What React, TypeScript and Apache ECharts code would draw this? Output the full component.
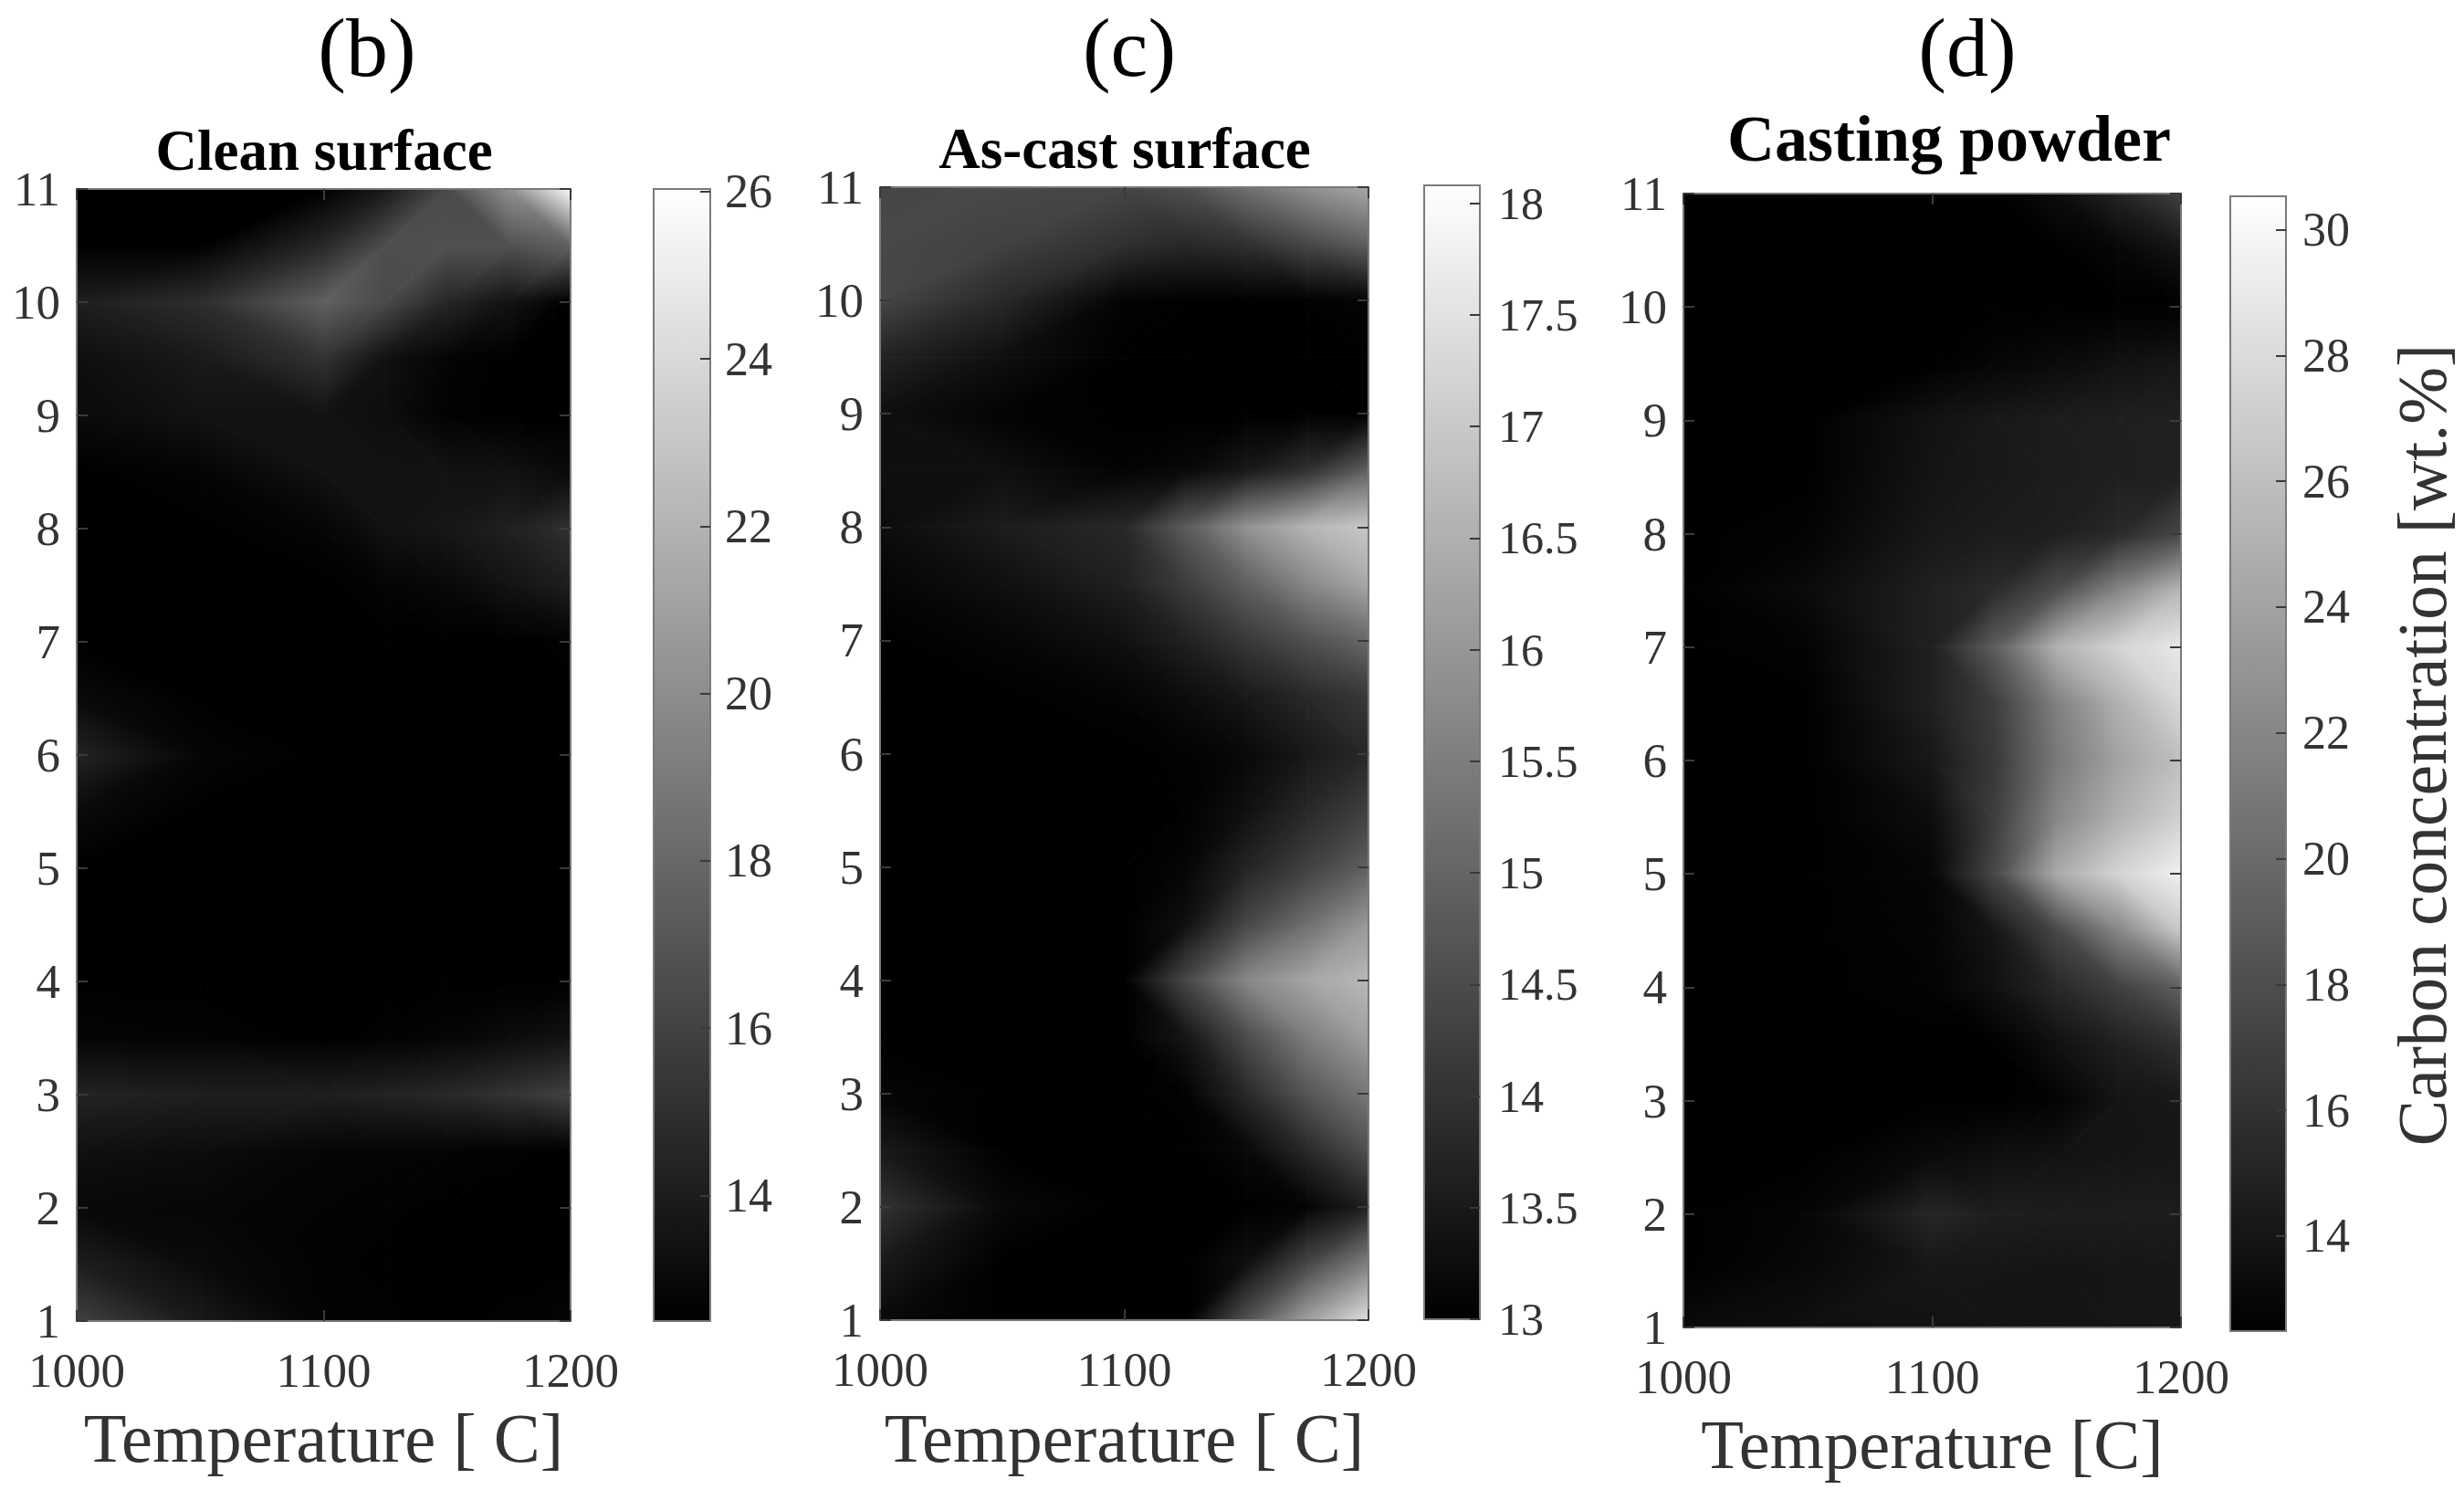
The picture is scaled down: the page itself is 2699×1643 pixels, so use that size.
import React, { useEffect, useRef } from "react";
import * as echarts from "echarts";

const temperatures = [1000, 1050, 1100, 1125, 1150, 1175, 1200];
const heights = [11, 10.5, 10, 9.5, 9, 8.5, 8, 7.5, 7, 6.5, 6, 5.5, 5, 4.5, 4, 3.5, 3, 2.5, 2, 1.5, 1];

const cleanSurface = [
  [12.5, 12.5, 12.5, 13.8, 16.4, 20.1, 25.77],
  [12.5, 12.5, 14.62, 16.6, 16.74, 16.74, 17.6],
  [14.09, 14.9, 17.6, 16.4, 14.5, 13.5, 12.5],
  [13.24, 13.83, 15.15, 13.4, 12.7, 12.5, 12.5],
  [13.03, 13.46, 13.46, 13.2, 12.6, 12.5, 12.5],
  [12.5, 12.71, 13.46, 13.46, 13.46, 13.4, 13.03],
  [12.5, 12.5, 12.77, 13.4, 13.7, 14.2, 15.04],
  [12.5, 12.5, 12.5, 12.7, 12.92, 13.5, 14.09],
  [12.5, 12.5, 12.5, 12.5, 12.5, 12.5, 12.6],
  [13.03, 12.5, 12.5, 12.5, 12.5, 12.5, 12.5],
  [14.36, 12.77, 12.5, 12.5, 12.5, 12.5, 12.5],
  [13.03, 12.5, 12.5, 12.5, 12.5, 12.5, 12.5],
  [12.5, 12.5, 12.5, 12.5, 12.5, 12.5, 12.5],
  [12.5, 12.5, 12.5, 12.5, 12.5, 12.5, 12.5],
  [12.5, 12.5, 12.5, 12.5, 12.5, 12.5, 12.5],
  [12.77, 12.66, 12.5, 12.6, 12.77, 13.1, 13.46],
  [14.36, 14.09, 14.09, 14.3, 14.62, 15.2, 15.95],
  [13.35, 13.14, 12.77, 12.7, 12.66, 12.6, 12.5],
  [12.92, 12.82, 12.66, 12.6, 12.5, 12.5, 12.5],
  [14.09, 13.03, 12.6, 12.5, 12.5, 12.5, 12.5],
  [15.95, 13.83, 12.66, 12.6, 12.5, 12.6, 12.77],
];

const asCastSurface = [
  [14.39, 14.43, 14.39, 14.59, 15.23, 15.87, 16.35],
  [14.43, 14.29, 13.96, 13.8, 13.96, 14.43, 14.91],
  [14.39, 13.8, 13.06, 13.02, 13, 13.02, 13.1],
  [13.7, 13.3, 13, 13, 13, 13, 13],
  [13.3, 13.06, 13, 13, 13, 13, 13],
  [13.3, 13.3, 13.06, 13.16, 13.48, 13.96, 14.91],
  [13.24, 13.55, 13.8, 14.8, 15.9, 16.6, 16.98],
  [13.1, 13.3, 13.64, 14.2, 14.9, 15.7, 16.35],
  [13, 13.1, 13.32, 13.64, 14.12, 14.59, 15.07],
  [13, 13, 13.08, 13.24, 13.48, 13.8, 14.12],
  [13, 13, 13, 13.04, 13.16, 13.48, 13.8],
  [13, 13, 13, 13.02, 13.32, 13.8, 14.27],
  [13, 13, 13, 13.1, 13.7, 14.27, 14.91],
  [13, 13, 13, 13.3, 14.4, 15.2, 16.03],
  [13, 13, 13, 14.4, 15.7, 16.3, 16.67],
  [13, 13, 13, 13.4, 14.5, 15.5, 16.19],
  [13.1, 13, 13, 13.04, 13.8, 14.7, 15.39],
  [13.5, 13, 13, 13, 13.16, 13.8, 14.59],
  [14, 13.16, 13, 13, 13, 13.08, 13.64],
  [13.5, 13, 13, 13, 13.3, 14.4, 15.55],
  [13.2, 13, 13, 13, 14.6, 16.2, 17.45],
];

const castingPowder = [
  [12.5, 12.5, 12.5, 12.5, 13.35, 15, 17.1],
  [12.5, 12.5, 12.5, 12.5, 12.5, 12.9, 13.91],
  [12.5, 12.5, 12.5, 12.5, 12.5, 12.5, 12.5],
  [12.5, 12.5, 12.5, 12.9, 13.21, 13.7, 14.06],
  [12.5, 12.5, 13.77, 14.2, 14.48, 14.65, 14.76],
  [12.5, 12.5, 13.91, 14.2, 14.48, 14.65, 14.76],
  [12.5, 12.71, 14.19, 14.47, 14.61, 15.46, 17.58],
  [12.5, 13.21, 14.75, 15.5, 18, 22, 25.51],
  [12.5, 12.71, 14.75, 19, 25, 27.5, 28.9],
  [12.5, 12.5, 14.75, 16.8, 21.5, 25, 27.77],
  [12.5, 12.5, 14.19, 16.5, 21, 24, 26.07],
  [12.5, 12.5, 13.4, 16.8, 22, 25, 27.21],
  [12.5, 12.5, 12.9, 17.5, 24.5, 27.5, 29.47],
  [12.5, 12.5, 12.8, 14, 17.5, 22, 26.64],
  [12.5, 12.5, 12.7, 13.62, 15.32, 17.02, 19.28],
  [12.5, 12.5, 12.5, 12.5, 13.62, 14.75, 15.89],
  [12.5, 12.5, 12.5, 12.5, 12.7, 13.9, 14.19],
  [12.5, 12.5, 13.21, 13.6, 13.77, 13.95, 14.06],
  [12.5, 12.85, 15.19, 14.6, 14.48, 14.48, 14.48],
  [12.5, 13.07, 14.06, 14, 13.91, 14, 14.06],
  [13.21, 13.56, 13.77, 13.85, 13.91, 14, 14.06],
];

const ticksB = [14, 16, 18, 20, 22, 24, 26];
const ticksC = [13, 13.5, 14, 14.5, 15, 15.5, 16, 16.5, 17, 17.5, 18];
const ticksD = [14, 16, 18, 20, 22, 24, 26, 28, 30];
const rangeB = [12.5, 26.03];
const rangeC = [13, 18.08];
const rangeD = [12.49, 30.53];

const SERIF = "'Liberation Serif', 'Times New Roman', serif";
const TICK_COLOR = "#333333";
const AXIS_GRAY = "#7a7a7a";

const panels = [
  {
    letter: "(b)", letterX: 402, title: "Clean surface", titleX: 355, titleY: 165, titleSize: 63,
    xName: "Temperature [ C]", values: cleanSurface, range: rangeB, ticks: ticksB,
    grid: { left: 84, top: 207, width: 541, height: 1240 },
    bar: { left: 716, top: 207, width: 62, height: 1240 }, barMargin: 16, barFont: 52,
    nameGap: 90,
  },
  {
    letter: "(c)", letterX: 1237, title: "As-cast surface", titleX: 1232, titleY: 163, titleSize: 63,
    xName: "Temperature [ C]", values: asCastSurface, range: rangeC, ticks: ticksC,
    grid: { left: 964, top: 205, width: 535, height: 1241 },
    bar: { left: 1560, top: 203, width: 61, height: 1242 }, barMargin: 20, barFont: 50,
    nameGap: 91,
  },
  {
    letter: "(d)", letterX: 2155, title: "Casting powder", titleX: 2135, titleY: 152, titleSize: 72,
    xName: "Temperature [C]", values: castingPowder, range: rangeD, ticks: ticksD,
    grid: { left: 1844, top: 212, width: 545, height: 1242 },
    bar: { left: 2443, top: 215, width: 61, height: 1243 }, barMargin: 18, barFont: 52,
    nameGap: 90,
  },
];

function triangles(values: number[][]) {
  const out: number[][] = [];
  for (let r = 0; r < heights.length - 1; r++) {
    for (let c = 0; c < temperatures.length - 1; c++) {
      const x0 = temperatures[c], x1 = temperatures[c + 1];
      const yT = heights[r], yB = heights[r + 1];
      const tl = values[r][c], tr = values[r][c + 1];
      const bl = values[r + 1][c], br = values[r + 1][c + 1];
      if (Math.abs(tl - br) <= Math.abs(tr - bl)) {
        out.push([x0, yT, tl, x1, yT, tr, x1, yB, br]);
        out.push([x0, yT, tl, x1, yB, br, x0, yB, bl]);
      } else {
        out.push([x0, yT, tl, x1, yT, tr, x0, yB, bl]);
        out.push([x1, yT, tr, x1, yB, br, x0, yB, bl]);
      }
    }
  }
  return out;
}

function triangleFill(p: number[][], v: number[], lo: number, hi: number) {
  const grayOf = (t: number) => {
    const g = Math.round(255 * Math.min(1, Math.max(0, (t - lo) / (hi - lo))));
    return `rgb(${g},${g},${g})`;
  };
  const ax = p[1][0] - p[0][0], ay = p[1][1] - p[0][1];
  const bx = p[2][0] - p[0][0], by = p[2][1] - p[0][1];
  const dv1 = v[1] - v[0], dv2 = v[2] - v[0];
  const det = ax * by - ay * bx;
  if (Math.abs(det) < 1e-6) return grayOf(v[0]);
  const gx = (dv1 * by - dv2 * ay) / det;
  const gy = (ax * dv2 - bx * dv1) / det;
  const n = gx * gx + gy * gy;
  if (n < 1e-12) return grayOf(v[0]);
  const s0 = (lo - v[0]) / n, s1 = (hi - v[0]) / n;
  return new echarts.graphic.LinearGradient(
    p[0][0] + gx * s0, p[0][1] + gy * s0,
    p[0][0] + gx * s1, p[0][1] + gy * s1,
    [{ offset: 0, color: "#000000" }, { offset: 1, color: "#ffffff" }],
    true
  );
}

function buildOption() {
  const grid: any[] = [];
  const xAxis: any[] = [];
  const yAxis: any[] = [];
  const series: any[] = [];
  const graphic: any[] = [];
  const line = { show: true, onZero: false, lineStyle: { color: AXIS_GRAY, width: 2 } };

  panels.forEach((pn) => {
    const gi = grid.length;
    grid.push({ ...pn.grid, outerBoundsMode: "none" });
    grid.push({ ...pn.bar, outerBoundsMode: "none" });

    const tickStyle = { show: true, inside: true, length: 12, lineStyle: { color: "#3a3a3a", width: 2 } };
    const xBase = { type: "value", min: 1000, max: 1200, interval: 100, gridIndex: gi, splitLine: { show: false }, axisLine: line, axisTick: tickStyle, z: 5 };
    const yBase = { type: "value", min: 1, max: 11, interval: 1, gridIndex: gi, splitLine: { show: false }, axisLine: line, axisTick: tickStyle, z: 5 };

    const xi = xAxis.length;
    xAxis.push({
      ...xBase, position: "bottom", name: pn.xName, nameLocation: "middle", nameGap: pn.nameGap,
      nameTextStyle: { fontFamily: SERIF, fontSize: 76.5, color: TICK_COLOR },
      axisLabel: { fontFamily: SERIF, fontSize: 53, color: TICK_COLOR, margin: 27, hideOverlap: false, formatter: (v: number) => String(v) },
    });
    xAxis.push({ ...xBase, position: "top", axisLabel: { show: false } });
    const yi = yAxis.length;
    yAxis.push({
      ...yBase, position: "left",
      axisLabel: { fontFamily: SERIF, fontSize: 53, color: TICK_COLOR, margin: 18, hideOverlap: false },
    });
    yAxis.push({ ...yBase, position: "right", axisLabel: { show: false } });

    const [lo, hi] = pn.range;
    series.push({
      type: "custom",
      name: pn.title,
      xAxisIndex: xi,
      yAxisIndex: yi,
      coordinateSystem: "cartesian2d",
      clip: true,
      silent: true,
      encode: { x: [0, 3, 6], y: [1, 4, 7] },
      data: triangles(pn.values),
      renderItem: (_: any, api: any) => {
        const pts = [0, 3, 6].map((k) => api.coord([api.value(k), api.value(k + 1)]));
        const vals = [2, 5, 8].map((k) => api.value(k));
        const fill = triangleFill(pts, vals, lo, hi);
        return {
          type: "polygon",
          shape: { points: pts },
          style: { fill, stroke: fill, lineWidth: 1 },
        };
      },
    });

    const bxi = xAxis.length;
    xAxis.push({ type: "value", min: 0, max: 1, gridIndex: gi + 1, show: false });
    const byi = yAxis.length;
    yAxis.push({
      type: "value", min: lo, max: hi, gridIndex: gi + 1, position: "right", z: 5,
      splitLine: { show: false },
      axisLine: { show: false, onZero: false },
      axisTick: { show: true, inside: true, length: 11, customValues: pn.ticks, lineStyle: { color: "#3a3a3a", width: 2 } },
      axisLabel: {
        fontFamily: SERIF, fontSize: pn.barFont, color: TICK_COLOR, margin: pn.barMargin,
        customValues: pn.ticks, hideOverlap: false, formatter: (v: number) => String(v),
      },
    });
    series.push({
      type: "custom",
      name: pn.title + " colour bar",
      xAxisIndex: bxi,
      yAxisIndex: byi,
      coordinateSystem: "cartesian2d",
      silent: true,
      encode: { x: [0, 2], y: [1, 3] },
      data: [[0, lo, 1, hi]],
      renderItem: (_: any, api: any) => {
        const a = api.coord([api.value(0), api.value(1)]);
        const b = api.coord([api.value(2), api.value(3)]);
        const fill = new echarts.graphic.LinearGradient(0, 0, 0, 1, [
          { offset: 0, color: "#ffffff" },
          { offset: 1, color: "#000000" },
        ]);
        return {
          type: "rect",
          shape: { x: a[0], y: b[1], width: b[0] - a[0], height: a[1] - b[1] },
          style: { fill, stroke: AXIS_GRAY, lineWidth: 2 },
        };
      },
    });

    graphic.push({
      type: "text", x: pn.letterX, y: 52,
      style: { text: pn.letter, font: `92px ${SERIF}`, fill: "#000000", align: "center", verticalAlign: "middle" },
    });
    graphic.push({
      type: "text", x: pn.titleX, y: pn.titleY,
      style: { text: pn.title, font: `bold ${pn.titleSize}px ${SERIF}`, fill: "#000000", align: "center", verticalAlign: "middle" },
    });
  });

  graphic.push({
    type: "text", x: 2653, y: 816, rotation: Math.PI / 2,
    style: { text: "Carbon concentration [wt.%]", font: `75.5px ${SERIF}`, fill: TICK_COLOR, align: "center", verticalAlign: "middle" },
  });

  return { animation: false, backgroundColor: "#ffffff", grid, xAxis, yAxis, series, graphic };
}

export default function App() {
  const ref = useRef<HTMLDivElement>(null);
  useEffect(() => {
    document.body.style.margin = "0";
    const chart = echarts.init(ref.current!, undefined, { renderer: "svg" });
    chart.setOption(buildOption() as any);
    return () => chart.dispose();
  }, []);
  return <div ref={ref} style={{ width: 2699, height: 1643 }} />;
}
